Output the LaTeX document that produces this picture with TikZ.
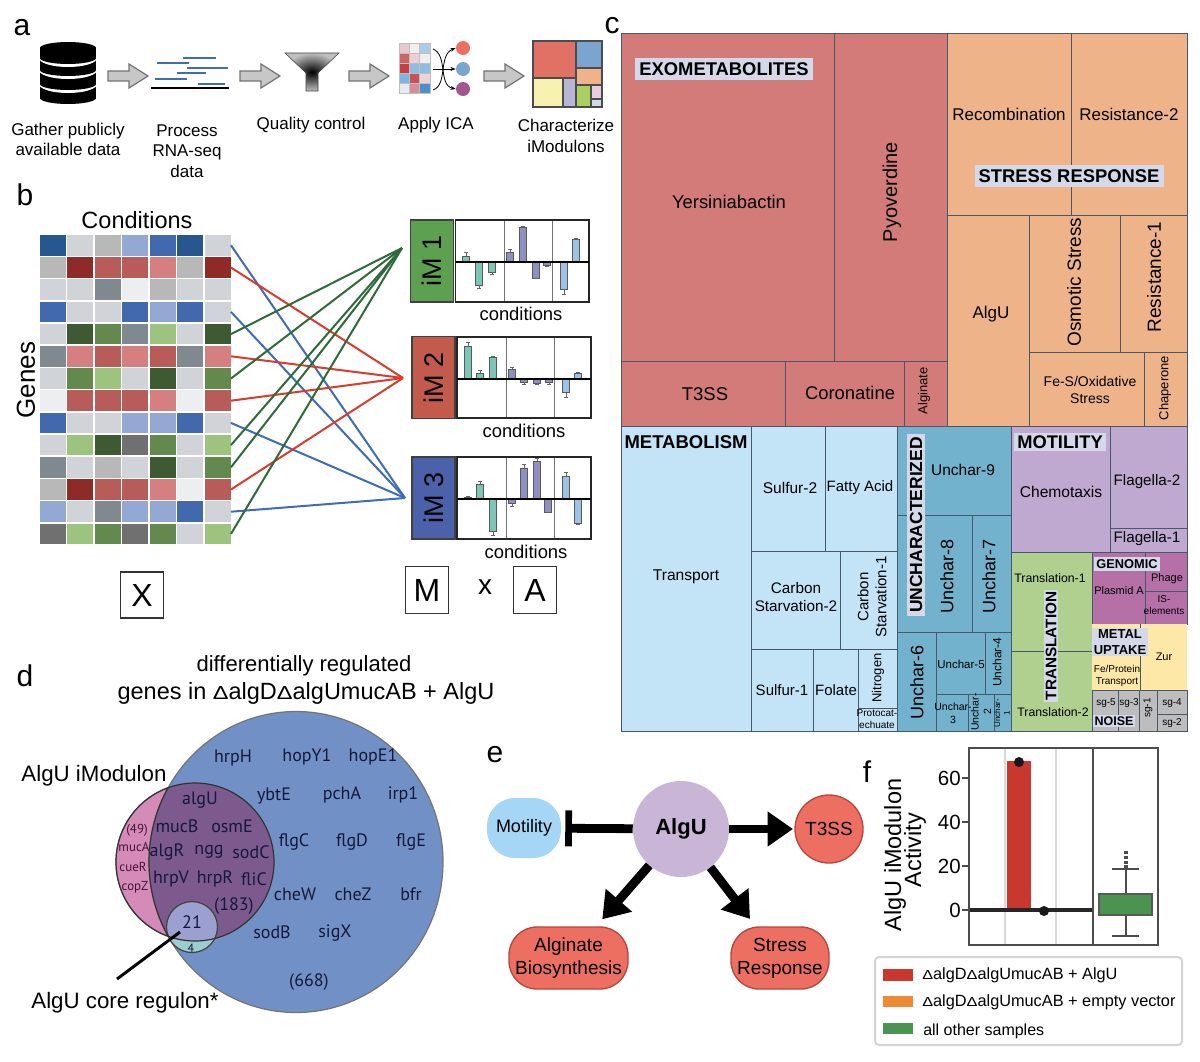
\documentclass[tikz,border=0pt]{standalone}
\usepackage{fontspec}
\setmainfont{Liberation Sans}
\newfontfamily\genefont{PT Sans}
\usetikzlibrary{arrows.meta,shapes.misc}
\newcommand\fs[1]{\fontsize{\fpeval{#1*0.75}}{\fpeval{#1*0.9}}\selectfont}
\newcommand\dlt{\scalebox{1}[.8]{Δ}}
\definecolor{hdb}{HTML}{27578F}\definecolor{hlg}{HTML}{D0D3D8}\definecolor{hmg}{HTML}{B8B8B8}
\definecolor{hlb}{HTML}{94A8D4}\definecolor{hbb}{HTML}{4268AE}\definecolor{hdr}{HTML}{8F2B27}
\definecolor{hrr}{HTML}{B85C5A}\definecolor{hpr}{HTML}{D67F80}\definecolor{hgy}{HTML}{808890}
\definecolor{hvl}{HTML}{ECEEF0}\definecolor{hdg}{HTML}{3D5A33}\definecolor{hgg}{HTML}{64894F}
\definecolor{hlv}{HTML}{9DC47F}\definecolor{hdk}{HTML}{707070}
\definecolor{tred}{HTML}{D27B78}\definecolor{tora}{HTML}{EFB389}\definecolor{tmet}{HTML}{C3E3F7}
\definecolor{tunc}{HTML}{72B2CC}\definecolor{tmot}{HTML}{BFA9D0}\definecolor{ttra}{HTML}{B0D08F}
\definecolor{tgen}{HTML}{B570A8}\definecolor{tmtl}{HTML}{FDE8A8}\definecolor{tnoi}{HTML}{BDBDBD}
\definecolor{tedge}{HTML}{46586A}\definecolor{labbg}{HTML}{D3D9E8}
\definecolor{bteal}{HTML}{7CC6B6}\definecolor{bpur}{HTML}{8F8FC2}\definecolor{bblu}{HTML}{9CC3E6}
\definecolor{linkb}{HTML}{3E6DB5}\definecolor{linkr}{HTML}{DB3B2B}\definecolor{linkg}{HTML}{2F6B3A}
\definecolor{vblue}{HTML}{7191C6}\definecolor{vpink}{HTML}{D48BB8}\definecolor{vpur}{HTML}{7D5A8E}
\definecolor{vlav}{HTML}{9CA0D0}\definecolor{vteal}{HTML}{9CCDD0}\definecolor{genec}{HTML}{15183A}
\definecolor{salm}{HTML}{EC6F61}\definecolor{salme}{HTML}{B5473C}
\definecolor{fred}{HTML}{C9382E}\definecolor{fgrn}{HTML}{4A9350}\definecolor{fora}{HTML}{EE8A33}
\definecolor{imgr}{HTML}{5DA150}\definecolor{imrd}{HTML}{C25B4C}\definecolor{imbl}{HTML}{4B62AA}
\definecolor{icblu}{HTML}{7BA5CF}\definecolor{icgrn}{HTML}{A8CF5F}\definecolor{icyel}{HTML}{F7F2B0}
\definecolor{motc}{HTML}{A5D6F5}
\tikzset{
 x=0.75pt,y=-0.75pt,
 tx/.style={font=\fs{#1},align=center,inner sep=0pt,text=black},
 gn/.style={font=\genefont\fs{#1},align=center,inner sep=0pt,text=genec},
 hd/.style={font=\fs{#1}\bfseries,align=center,inner sep=1.5pt,fill=labbg,text=black},
 cellbox/.style={draw=none,inner sep=0pt,minimum width=26*0.75pt,minimum height=20.6*0.75pt},
 tm/.style={draw=tedge,line width=0.75pt},
 blk/.style={fill=black!22,draw=black!55,line width=0.9pt},
 lnk/.style={line width=1.5pt},
 frame/.style={draw=black!85,line width=1.4pt},
 letterbox/.style={draw=black!80,line width=1.4pt,fill=white},
 im/.style={draw=black!75,line width=1pt,inner sep=0pt,minimum height=43*0.75pt,minimum width=82*0.75pt,rotate=90,font=\fs{27}},
 pill/.style={rectangle,rounded corners=21pt,draw=salme,line width=1pt,fill=salm,inner sep=0pt,font=\fs{19},align=center},
 heavy/.style={line width=6.6pt,black},
}
\newcommand\imbar[5]{%
 \fill[#5,draw=black!65,line width=0.6pt] (#1-3.6,#2) rectangle (#1+3.6,#2-#3);
 \draw[black!60,line width=0.5pt] (#1,#2-#3) -- (#1,#2-#4) (#1-2,#2-#4) -- (#1+2,#2-#4);}
\newcommand\tmc[5]{\draw[tm,fill=#1] (#2,#3) rectangle (#4,#5);}
\newcommand\lb[5]{\node[tx=#4] (#1) at (#2,#3) {#5};}
\newcommand\rl[5]{\node[tx=#4,rotate=90] (#1) at (#2,#3) {#5};}
\begin{document}
\begin{tikzpicture}
\useasboundingbox (0,0) rectangle (1200,1061);
\fill[white] (0,0) rectangle (1200,1061);
% panel letters
\lb{pa}{22}{28}{30}{a}\lb{pb}{25}{195}{30}{b}\lb{pc}{612}{26}{30}{c}
\lb{pd}{25}{676}{30}{d}\lb{pe}{495}{755}{30}{e}\lb{pf}{867}{772}{30}{f}
% ---------- a
\foreach \b in {98,84,70,58}{
 \fill[white] (68,\b) ellipse [x radius=29,y radius=9];
 \fill[black] (40,\b-10) rectangle (96,\b);
 \fill[black] (68,\b) ellipse [x radius=28,y radius=6];
 \fill[black] (68,\b-10) ellipse [x radius=28,y radius=6];
}
\foreach \ax in {108,240,349,484}{
 \draw[blk] (\ax,71)--(\ax+21,71)--(\ax+21,64)--(\ax+40,76)--(\ax+21,88)--(\ax+21,81)--(\ax,81)--cycle;
}
\draw[black,line width=1.8pt] (151,88)--(229,88);
\draw[linkb,line width=1.3pt] (183,58)--(216,58) (157,63)--(189,63) (187,68)--(228,68) (177,73)--(206,73) (155,79)--(187,79) (198,84)--(225,84);
\shade[inner color=black,outer color=black!25,draw=black!75] (285,53)--(339,53)--(318,73)--(318,91)--(306,91)--(306,73)--cycle;
\foreach \r [count=\i from 0] in {{E8C8CC,F2EEEE,A9CDE6},{CC6666,E8D0D4,F2EEEE},{C73F45,8FBFE0,8FBFE0},{7FB4DE,C85058,E8D5D8},{E6EBF0,D88C98,4E90CC}}{
 \foreach \c [count=\j from 0] in \r {
  \definecolor{tmpc}{HTML}{\c}
  \fill[tmpc,draw=black!25,line width=0.4pt] (399+10.3*\j,43+10*\i) rectangle (399+10.3*\j+10.3,43+10*\i+10);
 }}
\node[circle,fill=salm,inner sep=0pt,minimum size=14*0.75pt] (ic1) at (463,48) {};
\node[circle,fill=icblu,inner sep=0pt,minimum size=14*0.75pt] (ic2) at (463,69) {};
\node[circle,fill=bpur!60!purple,inner sep=0pt,minimum size=14*0.75pt] (ic3) at (463,89) {};
\coordinate (ia1) at (433,49);\coordinate (ia2) at (433,69);\coordinate (ia3) at (433,90);
\draw[-{Stealth[length=4pt]},line width=0.6pt] (ia1) .. controls (448,55) and (438,85) .. (ic3.west);
\draw[-{Stealth[length=4pt]},line width=0.6pt] (ia3) .. controls (448,85) and (438,55) .. (ic1.west);
\draw[-{Stealth[length=4pt]},line width=0.6pt] (ia2) -- (ic2.west);
\fill[salm!90!gray] (533,41) rectangle (576,78);
\fill[icblu] (576,41) rectangle (602,68);
\fill[tora] (576,68) rectangle (602,85);
\fill[icyel] (533,78) rectangle (563,107);
\fill[bpur!65!white] (563,78) rectangle (576,107);
\fill[icgrn] (576,85) rectangle (591,107);
\fill[tgen!35!white] (591,85) rectangle (602,99);
\fill[labbg] (591,99) rectangle (602,107);
\draw[black!70,line width=0.8pt] (533,41) rectangle (602,107) (576,41)--(576,107) (533,78)--(576,78) (576,68)--(602,68) (576,85)--(602,85) (563,78)--(563,107) (591,85)--(591,107) (591,99)--(602,99);
\lb{ta1}{68}{139.5}{17}{Gather publicly\\available data}
\lb{ta2}{187}{151}{17}{Process\\RNA-seq\\data}
\lb{ta3}{311}{125}{17}{Quality control}
\lb{ta4}{436}{125}{17}{Apply ICA}
\lb{ta5}{566}{136}{17}{Characterize\\iModulons}
% ---------- b
\lb{tcond}{137}{220}{23.5}{Conditions}
\rl{tgenes}{26}{380}{26}{Genes}
\foreach \r/\row in {
 1/{hdb,hlg,hmg,hlb,hbb,hdb,hlg},2/{hmg,hdr,hrr,hrr,hpr,hmg,hdr},3/{hlg,hlg,hgy,hvl,hmg,hlg,hlg},
 4/{hbb,hlg,hlg,hbb,hlb,hbb,hlg},5/{hlg,hdg,hgg,hgy,hlv,hlg,hdg},6/{hgy,hpr,hrr,hpr,hrr,hgy,hpr},
 7/{hlg,hgg,hlv,hlg,hdg,hlg,hgg},8/{hvl,hrr,hrr,hrr,hpr,hvl,hrr},9/{hbb,hlg,hlg,hlb,hlb,hbb,hlg},
 10/{hlg,hlv,hdg,hdk,hgg,hlg,hlv},11/{hgy,hlg,hmg,hlg,hdg,hlg,hgg},12/{hmg,hdr,hrr,hrr,hpr,hvl,hrr},
 13/{hlb,hlg,hgy,hlb,hlb,hbb,hlg},14/{hdk,hlv,hgg,hdk,hgg,hlg,hlv}}{
 \foreach \col [count=\c] in \row {
  \node[cellbox,fill=\col] (c-\r-\c) at ({53+27.45*(\c-1)},{245.3+22.2*(\r-1)}) {};
 }}
\coordinate (hubG) at (402,248);\coordinate (hubR) at (403,378);\coordinate (hubB) at (405,498);
\foreach \r in {1,4,9,13} \draw[lnk,linkb] (c-\r-7.east) -- (hubB);
\foreach \r in {2,6,8,12} \draw[lnk,linkr] (c-\r-7.east) -- (hubR);
\foreach \r in {5,7,10,11,14} \draw[lnk,linkg] (c-\r-7.east) -- (hubG);
\node[im,fill=imgr] (im1) at (432,261) {iM 1};
\node[im,fill=imrd] (im2) at (433.5,377.5) {iM 2};
\node[im,fill=imbl] (im3) at (433.5,498) {iM 3};
% charts
\foreach \X/\Y/\A/\B in {455.5/220/504.5/552,457/337/506/554,457/457/506/554}{
 \draw[black!55,line width=0.7pt] (\A,\Y)--(\A,\Y+81) (\B,\Y)--(\B,\Y+81);}
\foreach \x/\h/\e/\c in {466/6/10/bteal,479/-23/-26/bteal,492/-10/-12/bteal,510/10/12.3/bpur,523/35/36/bpur,536/-16/-16.5/bpur,547/-3/-4/bpur,564/-27/-32/bblu,576/23/24/bblu}{\imbar{\x}{262}{\h}{\e}{\c}}
\foreach \x/\h/\e/\c in {468/33/37/bteal,480/6/9/bteal,493/22/23/bteal,512/10/12/bpur,524/-3/-5/bpur,537/-4/-5/bpur,549/-3/-5/bpur,566/-13/-18/bblu,578/6/7/bblu}{\imbar{\x}{379}{\h}{\e}{\c}}
\foreach \x/\h/\e/\c in {468/2/3/bteal,480/15/18/bteal,493/-32/-36/bteal,512/-4/-7/bpur,524/31/35/bpur,537/38/41/bpur,548/-13/-13.5/bpur,566/23/27/bblu,578/-24/-25/bblu}{\imbar{\x}{499}{\h}{\e}{\c}}
\draw[frame] (455.5,220) rectangle (589,302);\draw[black,line width=1.2pt] (455.5,262)--(589,262);
\draw[frame] (457,337) rectangle (591,418);\draw[black,line width=1.2pt] (457,379)--(591,379);
\draw[frame] (457,457) rectangle (591,539);\draw[black,line width=1.2pt] (457,499)--(591,499);
\lb{tc1}{521}{314}{18.4}{conditions}\lb{tc2}{524}{431}{18.4}{conditions}\lb{tc3}{526}{552}{18.4}{conditions}
\node[letterbox,minimum width=43*0.75pt,minimum height=46*0.75pt,inner sep=0pt,font=\fs{32}] (boxX) at (142,595) {X};
\node[letterbox,minimum width=43*0.75pt,minimum height=47*0.75pt,inner sep=0pt,font=\fs{32}] (boxM) at (427,590) {M};
\lb{tx}{485}{587}{28}{x}
\node[letterbox,minimum width=43*0.75pt,minimum height=47*0.75pt,inner sep=0pt,font=\fs{32}] (boxA) at (535,590) {A};
% ---------- c
\tmc{tred}{621}{33}{834}{361}\tmc{tred}{834}{33}{947}{361}\tmc{tred}{621}{361}{785}{426}\tmc{tred}{785}{361}{904}{426}\tmc{tred}{904}{361}{947}{426}
\tmc{tora}{947}{33}{1071}{215}\tmc{tora}{1071}{33}{1187}{215}\tmc{tora}{947}{215}{1029}{426}\tmc{tora}{1029}{215}{1120}{352}\tmc{tora}{1120}{215}{1187}{352}\tmc{tora}{1029}{352}{1144}{426}\tmc{tora}{1144}{352}{1187}{426}
\tmc{tmet}{621}{426}{751}{731}\tmc{tmet}{751}{426}{825}{551}\tmc{tmet}{825}{426}{897}{551}\tmc{tmet}{751}{551}{840}{649}\tmc{tmet}{840}{551}{897}{649}\tmc{tmet}{751}{649}{813}{731}\tmc{tmet}{813}{649}{858}{731}\tmc{tmet}{858}{649}{897}{708}\tmc{tmet}{858}{708}{897}{731}
\tmc{tunc}{897}{426}{1011}{515}\tmc{tunc}{897}{515}{972}{632}\tmc{tunc}{972}{515}{1011}{632}\tmc{tunc}{897}{632}{936}{731}\tmc{tunc}{936}{632}{985}{694}\tmc{tunc}{985}{632}{1011}{694}\tmc{tunc}{936}{694}{968}{731}\tmc{tunc}{968}{694}{994}{731}\tmc{tunc}{994}{694}{1011}{731}
\tmc{tmot}{1011}{426}{1110}{552}\tmc{tmot}{1110}{426}{1187}{528}\tmc{tmot}{1110}{528}{1187}{552}
\tmc{ttra}{1011}{552}{1092}{651}\tmc{ttra}{1011}{651}{1092}{731}
\tmc{tgen}{1092}{552}{1145}{624}\tmc{tgen}{1145}{552}{1187}{591}\tmc{tgen}{1145}{591}{1187}{624}
\fill[tmtl] (1092,624) rectangle (1187,690);
\draw[tm] (1140,624)--(1140,690) (1092,690)--(1187,690);
\tmc{tnoi}{1092}{690}{1118}{731}\tmc{tnoi}{1118}{690}{1139}{731}\tmc{tnoi}{1139}{690}{1157}{731}\tmc{tnoi}{1157}{690}{1187}{714}\tmc{tnoi}{1157}{714}{1187}{731}
\lb{c1}{729}{202}{18.4}{Yersiniabactin}\rl{c2}{892}{192}{20}{Pyoverdine}\lb{c3}{705}{394}{18.5}{T3SS}\lb{c4}{850}{393}{18.4}{Coronatine}\rl{c5}{924}{391}{13}{Alginate}
\lb{c6}{1009}{114}{17}{Recombination}\lb{c7}{1129}{114}{17}{Resistance-2}\lb{c8}{991}{314}{17}{AlgU}\rl{c9}{1074}{282}{19}{Osmotic Stress}\rl{c10}{1154}{277}{19}{Resistance-1}
\lb{c11}{1090}{390}{14}{Fe-S/Oxidative\\Stress}\rl{c12}{1165}{388}{13}{Chaperone}
\lb{c13}{686}{577}{15.6}{Transport}\lb{c14}{790}{488}{15.5}{Sulfur-2}\lb{c15}{860}{488}{15}{Fatty Acid}\lb{c16}{796}{597}{15.3}{Carbon\\Starvation-2}\rl{c17}{872}{597}{15}{Carbon\\Starvation-1}
\lb{c18}{782}{690}{15}{Sulfur-1}\lb{c19}{836}{690}{15}{Folate}\rl{c20}{878}{678}{13}{Nitrogen}\lb{c21}{877}{719}{10}{Protocat-\\echuate}
\lb{c22}{963}{470}{15.5}{Unchar-9}\rl{c23}{947}{576}{18}{Unchar-8}\rl{c24}{989}{576}{18}{Unchar-7}\rl{c25}{917}{682}{18}{Unchar-6}\lb{c26}{961}{664}{11.5}{Unchar-5}\rl{c27}{997}{662}{12}{Unchar-4}
\lb{c28}{953}{713}{10.5}{Unchar-\\3}\rl{c29}{981}{712}{10.5}{Unchar-\\2}\rl{c30}{1002}{713}{8}{Unchar-\\1}
\lb{c31}{1061}{492}{15.6}{Chemotaxis}\lb{c32}{1147}{482}{15.2}{Flagella-2}\lb{c33}{1147}{539}{15.2}{Flagella-1}
\lb{c34}{1050}{578}{12.3}{Translation-1}\lb{c35}{1053}{712}{12.3}{Translation-2}
\lb{c36}{1119}{591}{11}{Plasmid A}\lb{c37}{1167}{579}{11}{Phage}\lb{c38}{1164}{605}{10}{IS-\\elements}
\lb{c39}{1117}{676}{10}{Fe/Protein\\Transport}\lb{c40}{1164}{657}{11}{Zur}
\lb{c41}{1106}{703}{10}{sg-5}\lb{c42}{1129}{703}{10}{sg-3}\rl{c43}{1148}{708}{10}{sg-1}\lb{c44}{1172}{703}{10}{sg-4}\lb{c45}{1172}{723}{10}{sg-2}
\node[hd=18.4,inner sep=3pt] (h1) at (724,69) {EXOMETABOLITES};
\node[hd=18.4,inner sep=3pt] (h2) at (1069,176) {STRESS RESPONSE};
\node[hd=18.5,fill=tmet] (h3) at (686,442) {METABOLISM};
\node[hd=17.5,rotate=90,inner sep=2.2pt] (h4) at (916,525) {UNCHARACTERIZED};
\node[hd=18.3,inner sep=2.2pt] (h5) at (1060,442) {MOTILITY};
\node[hd=15.3,rotate=90] (h6) at (1051,646) {TRANSLATION};
\node[hd=12.8] (h7) at (1127,564) {GENOMIC};
\node[hd=13] (h8) at (1120,642) {METAL\\UPTAKE};
\node[hd=12.5] (h9) at (1114,721) {NOISE};
% ---------- d
\lb{d1}{304}{666}{22}{differentially regulated}
\lb{d1b}{306}{693}{23.5}{genes in \dlt algD\dlt algUmucAB + AlgU}
\fill[vpink,draw=black!55,line width=0.9pt] (195,862) circle [radius=79];
\fill[vblue,draw=black!55,line width=0.9pt] (296,862) ellipse [x radius=147,y radius=150.5];
\begin{scope}
 \clip (195,862) circle [radius=79];
 \fill[vpur] (296,862) ellipse [x radius=147,y radius=150.5];
\end{scope}
\fill[vteal] (192,927) circle [radius=25.5];
\begin{scope}
 \clip (195,862) circle [radius=79];
 \fill[vlav] (192,927) circle [radius=25.5];
\end{scope}
\draw[black!75,line width=0.9pt] (192,927) circle [radius=25.5];
\draw[black!80,line width=0.9pt] (195,862) circle [radius=79];
\begin{scope}
 \clip (195,862) circle [radius=79];
 \draw[black!80,line width=0.9pt] (296,862) ellipse [x radius=147,y radius=150.5];
\end{scope}
\lb{d2}{94}{776}{22.3}{AlgU iModulon}
\lb{d3}{125}{1003}{22.3}{AlgU core regulon*}
\coordinate (corePt) at (180,932);\coordinate (coreEnd) at (117,979);
\draw[black,line width=2.2pt] (corePt) -- (coreEnd);
\foreach \n/\x/\y/\t in {g1/233/758/hrpH,g2/307/757/hopY1,g3/373/757/hopE1,g4/274/796/ybtE,g5/342/795/pchA,g6/403/795/irp1,g7/294/842/flgC,g8/352/842/flgD,g9/411/842/flgE,g10/295/894/cheW,g11/353/894/cheZ,g12/411/894/bfr,g13/272/932/sodB,g14/335/933/sigX,g15/309/982/(668),g16/200/800/algU,g17/177/826/mucB,g18/232/826/osmE,g19/167/852/algR,g20/209/852/ngg,g21/251/852/sodC,g22/171/879/hrpV,g23/215/879/hrpR,g24/254/879/fliC,g25/234/906/(183),g26/192/922/21}
 \node[gn=18] (\n) at (\x,\y) {\t};
\node[gn=12] (g27) at (191,948) {4};
\foreach \n/\x/\y/\t in {g28/137/830/(49),g29/134/847/mucA,g30/133/867/cueR,g31/135/887/copZ}
 \node[gn=13,text=genec!70!purple] (\n) at (\x,\y) {\t};
% ---------- e
\node[circle,fill=tmot!85!white,inner sep=0pt,minimum size=96*0.75pt,font=\bfseries\fs{22}] (algu) at (681,829) {AlgU};
\node[rectangle,rounded corners=21pt,fill=motc,inner sep=0pt,minimum width=74*0.75pt,minimum height=60*0.75pt,font=\fs{18}] (mot) at (524,828) {Motility};
\node[circle,draw=salme,line width=1pt,fill=salm,inner sep=0pt,minimum size=68*0.75pt,font=\fs{19}] (t3ss) at (829,829) {T3SS};
\node[pill,minimum width=119*0.75pt,minimum height=62*0.75pt] (algn) at (568.5,958) {Alginate\\Biosynthesis};
\node[pill,minimum width=98*0.75pt,minimum height=62*0.75pt] (strs) at (780,958) {Stress\\Response};
\draw[heavy,-{Bar[width=27pt,line width=5pt]},shorten >=3pt] (algu) -- (mot);
\draw[heavy,-{Triangle[length=19pt,width=25pt]},shorten >=1pt] (algu) -- (t3ss);
\draw[heavy,-{Triangle[length=19pt,width=25pt]},shorten >=7pt] (algu) -- (algn);
\draw[heavy,-{Triangle[length=19pt,width=25pt]},shorten >=7pt] (algu) -- (strs);
% ---------- f
\draw[black!15,line width=1.4pt] (1005,748)--(1005,945) (1056,748)--(1056,945);
\fill[fred] (1007,761) rectangle (1031,910);
\draw[black!85,line width=2.6pt] (969,910)--(1093,910);
\fill[black!90] (1019,762) circle [radius=5];
\fill[black!90] (1044,911) circle [radius=5];
\draw[black!70,line width=1.5pt] (1126,869)--(1126,894) (1126,915)--(1126,936) (1112,869)--(1139,869) (1112,936)--(1139,936);
\draw[black!70,line width=2.6pt,densely dotted] (1126,851)--(1126,868);
\fill[fgrn,draw=black!65,line width=1.3pt] (1099,894) rectangle (1152,915);
\draw[black!70,line width=1.3pt] (969,748) rectangle (1158,945) (1093,748)--(1093,945);
\foreach \v/\y in {60/778,40/822,20/866,0/910}{
 \draw[black!70,line width=1pt] (962,\y)--(969,\y);
 \node[tx=20.5,anchor=east] (ytick\v) at (961,\y) {\v};}
\rl{f1}{895}{855}{23.5}{AlgU iModulon}\rl{f2}{915}{850}{23.5}{Activity}
\draw[black!17,fill=white,line width=1.5pt,rounded corners=3pt] (875,957) rectangle (1182,1045);
\fill[fred] (883,969) rectangle (913,981);
\fill[fora] (883,996) rectangle (913,1007);
\fill[fgrn] (883,1023) rectangle (913,1034);
\node[tx=16.3,anchor=west] (l1) at (922,975) {\dlt algD\dlt algUmucAB + AlgU};
\node[tx=16.3,anchor=west] (l2) at (922,1002) {\dlt algD\dlt algUmucAB + empty vector};
\node[tx=16,anchor=west] (l3) at (923,1031) {all other samples};
\end{tikzpicture}
\end{document}
